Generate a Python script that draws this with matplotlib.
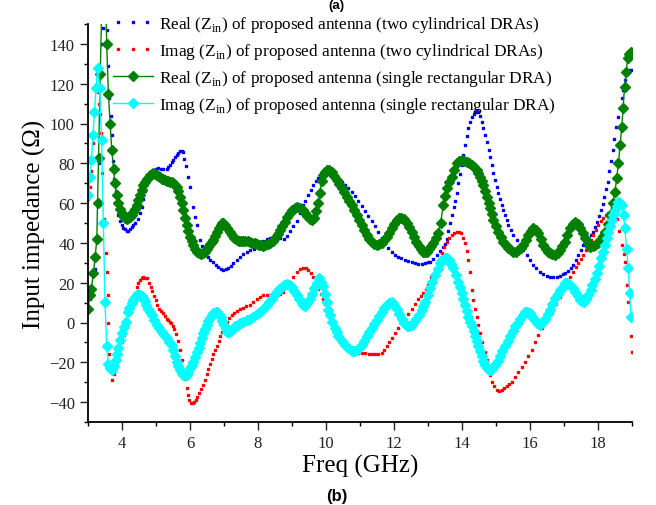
import numpy as np
import matplotlib
matplotlib.use("Agg")
import matplotlib.pyplot as plt
from matplotlib.ticker import MultipleLocator
from matplotlib.legend_handler import HandlerLine2D

plt.rcParams['font.family'] = ['Liberation Serif', 'DejaVu Serif']
plt.rcParams['mathtext.fontset'] = 'custom'
plt.rcParams['mathtext.rm'] = 'Liberation Serif'

# ---------------- data ----------------
# Real(Zin), two cylindrical DRAs
f_re2 = [3.05, 3.12, 3.2, 3.25, 3.3, 3.33, 3.36, 3.39, 3.42, 3.45, 3.5, 3.55, 3.6, 3.63, 3.68, 3.7, 3.74, 3.77,
         3.81, 3.84, 3.89, 3.94, 3.99, 4.04, 4.09, 4.14, 4.19, 4.24, 4.28, 4.33, 4.38, 4.48, 4.53, 4.58, 4.63,
         4.68, 4.73, 4.8, 4.86, 4.92, 5.0, 5.07, 5.14, 5.21, 5.31, 5.36, 5.41, 5.46, 5.51, 5.56, 5.61, 5.66,
         5.71, 5.75, 5.78, 5.83, 5.88, 5.94, 6.0, 6.08, 6.14, 6.2, 6.29, 6.35, 6.41, 6.47, 6.54, 6.6, 6.69,
         6.76, 6.83, 6.9, 6.98, 7.05, 7.13, 7.2, 7.27, 7.37, 7.47, 7.57, 7.67, 7.77, 7.87, 7.96, 8.06, 8.16,
         8.26, 8.36, 8.45, 8.55, 8.65, 8.75, 8.84, 8.94, 9.04, 9.14, 9.24, 9.33, 9.38, 9.48, 9.55, 9.63, 9.7,
         9.77, 9.85, 9.92, 10.0, 10.07, 10.16, 10.26, 10.36, 10.46, 10.56, 10.66, 10.76, 10.85, 10.95, 11.05,
         11.15, 11.24, 11.34, 11.44, 11.54, 11.64, 11.73, 11.83, 11.93, 12.03, 12.13, 12.22, 12.32, 12.42,
         12.52, 12.62, 12.72, 12.82, 12.92, 13.0, 13.06, 13.15, 13.25, 13.35, 13.45, 13.5, 13.55, 13.6, 13.65,
         13.7, 13.75, 13.79, 13.84, 13.89, 13.94, 13.99, 14.04, 14.09, 14.14, 14.19, 14.24, 14.29, 14.34,
         14.38, 14.43, 14.48, 14.53, 14.58, 14.63, 14.68, 14.73, 14.78, 14.82, 14.87, 14.92, 14.97, 15.02,
         15.07, 15.12, 15.17, 15.22, 15.26, 15.31, 15.36, 15.43, 15.51, 15.61, 15.71, 15.8, 15.9, 16.0, 16.1,
         16.19, 16.29, 16.39, 16.49, 16.59, 16.69, 16.79, 16.88, 16.98, 17.03, 17.13, 17.2, 17.27, 17.35,
         17.42, 17.5, 17.57, 17.65, 17.72, 17.79, 17.86, 17.91, 17.96, 18.03, 18.09, 18.14, 18.19, 18.24,
         18.28, 18.33, 18.38, 18.43, 18.48, 18.53, 18.58, 18.64, 18.7, 18.74, 18.78, 18.86, 18.94, 19.0]
z_re2 = [12, 18, 27, 42, 59, 80, 105, 125, 140, 148, 152, 147, 129, 113, 104, 94, 81, 72,
         66, 60, 54, 51, 49, 47.5, 47, 46, 46, 47, 48, 49, 50, 52, 55, 58, 62,
         66, 70, 73, 75, 76, 77, 77.5, 77, 77, 77, 78, 79, 80.5, 81.7, 83, 84, 85,
         86, 86, 85.5, 82, 78.6, 73, 68, 58, 53, 49, 41.5, 38.5, 36.4, 34.5, 33, 31.5, 30.5,
         29, 28, 27, 26.5, 26.8, 27.6, 28.5, 30, 31.5, 33, 34.5, 35.6, 36.3, 37, 38.5, 40, 41,
         42, 42.5, 43, 43, 42.5, 42, 43.5, 46, 48.5, 51, 55, 59, 61, 64, 66.5, 69, 71,
         72.5, 74, 75, 75.5, 75.5, 74.5, 73.5, 72, 70.8, 69, 67.4, 65.5, 63.4, 61, 58.4,
         56, 53.4, 51, 48.3, 45.3, 42.3, 39.8, 37.3, 35.5, 34, 33, 32.2, 31.4, 30.8,
         30.2, 29.7, 29.5, 29.5, 29.8, 30.3, 30.6, 32, 34, 36, 38, 39.5, 42, 46, 50,
         54, 58, 61, 65, 70, 74.5, 79, 84, 89, 93.5, 97.6, 101, 103.5, 105,
         106, 106.3, 106, 104, 101, 97.5, 94, 90.5, 86.7, 83, 79, 75, 71.6, 68,
         65, 62, 59, 56.5, 54, 51.5, 49, 46.5, 44, 41.5, 39, 36.5, 34, 31.5, 29,
         27.2, 25.6, 24.5, 23.5, 23, 22.8, 23, 23.5, 24.2, 24.7, 26, 27.5, 29, 31.5,
         34, 36.5, 39, 40.5, 42, 43.8, 45.7, 48, 50.7, 53.5, 56.5, 59.5, 63, 67,
         70.8, 76, 81, 86.5, 92, 98, 103.5, 108, 112.7, 117, 122, 125, 127, 127]

# Imag(Zin), two cylindrical DRAs
f_im2 = [3.0, 3.06, 3.1, 3.16, 3.22, 3.27, 3.32, 3.37, 3.42, 3.47, 3.52, 3.55, 3.58, 3.6, 3.62, 3.65, 3.7, 3.75,
         3.79, 3.84, 3.89, 3.94, 3.99, 4.05, 4.12, 4.18, 4.24, 4.28, 4.33, 4.38, 4.43, 4.48, 4.53, 4.58, 4.63,
         4.68, 4.73, 4.79, 4.84, 4.89, 4.94, 4.99, 5.04, 5.09, 5.15, 5.21, 5.26, 5.31, 5.36, 5.41, 5.45, 5.49,
         5.54, 5.59, 5.65, 5.71, 5.75, 5.8, 5.85, 5.9, 5.94, 5.98, 6.03, 6.08, 6.13, 6.18, 6.22, 6.27, 6.33,
         6.39, 6.44, 6.49, 6.54, 6.59, 6.64, 6.69, 6.74, 6.79, 6.84, 6.88, 6.93, 6.98, 7.03, 7.08, 7.15, 7.23,
         7.3, 7.37, 7.47, 7.57, 7.66, 7.76, 7.86, 7.96, 8.06, 8.16, 8.26, 8.35, 8.45, 8.55, 8.65, 8.74, 8.84,
         8.94, 9.04, 9.14, 9.24, 9.33, 9.4, 9.48, 9.56, 9.63, 9.7, 9.77, 9.84, 9.9, 9.96, 10.02, 10.1, 10.17,
         10.24, 10.31, 10.38, 10.46, 10.53, 10.61, 10.68, 10.76, 10.85, 10.95, 11.05, 11.15, 11.25, 11.34,
         11.44, 11.54, 11.64, 11.72, 11.79, 11.86, 11.93, 12.03, 12.13, 12.22, 12.32, 12.42, 12.52, 12.62,
         12.72, 12.8, 12.86, 12.93, 13.0, 13.1, 13.2, 13.3, 13.4, 13.48, 13.55, 13.62, 13.7, 13.77, 13.84,
         13.9, 13.96, 14.03, 14.09, 14.14, 14.19, 14.24, 14.29, 14.33, 14.38, 14.43, 14.48, 14.53, 14.6,
         14.68, 14.73, 14.78, 14.83, 14.87, 14.94, 15.02, 15.09, 15.17, 15.24, 15.31, 15.39, 15.46, 15.56,
         15.66, 15.75, 15.85, 15.95, 16.05, 16.15, 16.24, 16.34, 16.44, 16.54, 16.64, 16.76, 16.88, 16.98,
         17.08, 17.17, 17.27, 17.35, 17.42, 17.5, 17.57, 17.65, 17.72, 17.79, 17.86, 17.94, 18.01, 18.09,
         18.16, 18.23, 18.3, 18.4, 18.5, 18.57, 18.63, 18.7, 18.75, 18.79, 18.84, 18.89, 18.93, 18.97, 18.99]
z_im2 = [62, 68, 76, 90, 105, 116, 110, 95, 75, 52, 35, 25.6, 13.8, 0, -16, -24, -29, -26,
         -23, -19.5, -16.4, -13, -9.6, -6.5, -3, 1, 5.5, 8.5, 12, 15, 18, 20, 21.4, 22.3, 22.7,
         22.6, 22.2, 20, 18, 15.8, 13.5, 11.3, 9, 7, 5.8, 4.6, 3.3, 2, 1.2, 0.4, -0.5, -1.6,
         -3.5, -6, -9.5, -14, -19, -24, -28.5, -33, -36.5, -39, -40.3, -40.6, -40.2, -39, -37.5, -35.6, -33.5,
         -31.4, -28.7, -26, -23.5, -21, -18.5, -16, -13.8, -11.6, -9.3, -7, -5, -3, -1.3, 0.4, 2.2, 3.8,
         4.8, 5.8, 6.7, 7.5, 8.2, 8.8, 10.3, 11.8, 12.8, 13.8, 14, 14, 13.8, 13.5, 14.3, 15.5, 18,
         20.6, 23, 25.6, 26.8, 27.6, 27.3, 26.4, 25, 23, 20.3, 17, 14.5, 12, 9.5, 7, 4.5, 2,
         -0.5, -3, -5.5, -8, -9.8, -11.4, -12.7, -13.8, -14.8, -15.5, -15.5, -15.5, -15.7, -15.8,
         -16, -15.8, -15.5, -14, -12, -10, -8, -5.5, -3, -0.5, 2, 4.5, 7, 9.5,
         12, 13.5, 14.6, 16.8, 18.9, 23, 27, 31, 34.8, 37.8, 40.6, 42.5, 44, 45, 45.7,
         45.5, 44.8, 42.5, 39.8, 36, 31.4, 25.6, 16.3, 11.5, 7, 3, -1.3, -5.4, -10,
         -14.6, -19, -23, -26.5, -29.7, -32, -34, -34.3, -34, -33, -32, -31, -29.7, -27.2,
         -24.7, -22.2, -19.6, -16.7, -13.8, -10, -6.3, -3, 0, 2.8, 5.5, 9.3, 13, 16.8,
         20.6, 23, 25.6, 27.7, 29.7, 31.8, 34, 36.5, 39, 41.5, 44, 46.5, 49, 50.8,
         52.4, 53.8, 55, 56, 56.5, 52, 46, 39, 34.5, 30.6, 19, 10.5, 2, -7, -14.6]

# Real(Zin), single rectangular DRA
f_re1 = [3.0, 3.06, 3.1, 3.16, 3.21, 3.26, 3.28, 3.31, 3.36, 3.42, 3.5, 3.55, 3.6, 3.65, 3.7, 3.75, 3.79, 3.84,
         3.89, 3.94, 3.99, 4.04, 4.09, 4.14, 4.19, 4.24, 4.28, 4.33, 4.38, 4.43, 4.48, 4.53, 4.58, 4.63, 4.68,
         4.73, 4.78, 4.82, 4.87, 4.92, 4.97, 5.02, 5.07, 5.12, 5.17, 5.21, 5.26, 5.31, 5.36, 5.41, 5.46, 5.51,
         5.56, 5.61, 5.66, 5.71, 5.75, 5.8, 5.85, 5.9, 5.95, 6.0, 6.05, 6.1, 6.15, 6.2, 6.26, 6.32, 6.38,
         6.44, 6.49, 6.54, 6.6, 6.65, 6.69, 6.74, 6.8, 6.85, 6.9, 6.94, 6.98, 7.04, 7.1, 7.17, 7.23, 7.3,
         7.37, 7.43, 7.5, 7.57, 7.63, 7.7, 7.76, 7.83, 7.9, 7.96, 8.03, 8.1, 8.16, 8.22, 8.29, 8.35, 8.43,
         8.5, 8.58, 8.65, 8.72, 8.79, 8.86, 8.94, 9.01, 9.09, 9.16, 9.24, 9.31, 9.38, 9.45, 9.53, 9.6, 9.66,
         9.72, 9.77, 9.82, 9.87, 9.92, 9.97, 10.02, 10.1, 10.17, 10.24, 10.31, 10.38, 10.46, 10.53, 10.61,
         10.68, 10.76, 10.83, 10.9, 10.98, 11.05, 11.12, 11.2, 11.27, 11.34, 11.41, 11.49, 11.56, 11.64,
         11.71, 11.79, 11.86, 11.93, 12.0, 12.08, 12.14, 12.21, 12.29, 12.37, 12.44, 12.52, 12.59, 12.66,
         12.73, 12.8, 12.86, 12.91, 12.96, 13.04, 13.1, 13.16, 13.23, 13.3, 13.37, 13.45, 13.5, 13.55, 13.62,
         13.7, 13.77, 13.84, 13.91, 13.99, 14.07, 14.14, 14.22, 14.29, 14.36, 14.43, 14.48, 14.53, 14.58,
         14.63, 14.68, 14.73, 14.78, 14.82, 14.87, 14.92, 15.0, 15.07, 15.14, 15.22, 15.29, 15.36, 15.44,
         15.51, 15.58, 15.66, 15.73, 15.8, 15.88, 15.95, 16.02, 16.1, 16.17, 16.24, 16.32, 16.39, 16.46,
         16.54, 16.59, 16.66, 16.74, 16.81, 16.88, 16.95, 17.03, 17.1, 17.18, 17.25, 17.32, 17.4, 17.47,
         17.55, 17.62, 17.7, 17.77, 17.84, 17.91, 17.99, 18.06, 18.14, 18.21, 18.28, 18.35, 18.43, 18.5,
         18.55, 18.6, 18.65, 18.7, 18.74, 18.78, 18.83, 18.87, 18.92, 18.97]
z_re1 = [7, 14, 17, 25, 33, 42, 60, 82.5, 125, 170, 175, 140, 115, 100, 86.7, 77, 70, 64,
         60, 57, 55, 53.5, 52.4, 52, 52.4, 53, 54, 55.5, 57, 59, 61.6, 64, 66.6, 69, 70.8,
         72, 73.2, 74, 74.7, 75, 74.6, 74, 73.5, 73, 72.3, 72, 71.6, 71.2, 71, 70.8, 70.5, 70,
         69.2, 68.3, 66, 63, 60, 56.5, 52.5, 49, 46, 43, 41, 39, 37, 35.6, 34.7, 34.3, 34.7,
         35.6, 36.8, 38, 39.5, 40.5, 41.5, 43.5, 45.6, 47.5, 49, 49.8, 50, 48.8, 47.3, 45.5, 44, 42.5,
         41.5, 41.2, 41, 41, 40.9, 40.8, 40.6, 40.2, 39.7, 39.3, 39, 38.7, 38.6, 38.9, 39.3, 40, 41,
         42.3, 44.5, 46.5, 48.5, 50.7, 53, 55, 56.5, 57.7, 57.8, 57.4, 56.3, 55, 53.5, 52, 51.5, 52.5,
         56, 60, 65, 71, 74, 75.8, 76.6, 76.5, 75.8, 73.8, 71.6, 69.5, 67.4, 65.4, 63.3,
         61.2, 59, 56.5, 54, 51.5, 49, 46.5, 44, 42, 40.6, 39.5, 39, 39.2, 40,
         41.3, 43, 45, 47.3, 49.5, 51.5, 52.4, 52.7, 51.8, 50, 48, 45.7, 43, 40.6,
         38.5, 36.8, 35.6, 35.2, 35.6, 37, 38.5, 40, 42.3, 44.8, 50, 59, 63.5, 67.4, 70.5,
         73.3, 76.8, 80, 81.2, 81.7, 81.4, 80.8, 80, 79, 78, 76.6, 75, 73.3, 71.2,
         69, 66, 63.3, 60.3, 57.4, 54.5, 51.5, 48.5, 45.7, 43, 40.6, 38.8, 37.3, 36.2,
         35.3, 35.5, 36.4, 37.5, 39, 41.5, 44, 46, 47.3, 46.5, 44.8, 42, 39, 37,
         35.6, 35, 34.3, 33.9, 34.8, 36.4, 38.3, 40.6, 44, 47.3, 49.5, 50.7, 49.5, 47.3,
         44.8, 42.3, 40, 38, 38.3, 39, 40, 41.5, 43.5, 45.7, 49.5, 54, 60, 65.8,
         72.5, 80, 89, 98.4, 108, 118.5, 126, 132.8, 135, 136]

# Imag(Zin), single rectangular DRA
f_im1 = [3.01, 3.06, 3.1, 3.15, 3.19, 3.24, 3.28, 3.34, 3.4, 3.45, 3.5, 3.55, 3.6, 3.65, 3.7, 3.76, 3.81, 3.85,
         3.89, 3.94, 3.99, 4.05, 4.11, 4.17, 4.22, 4.28, 4.33, 4.38, 4.43, 4.48, 4.53, 4.58, 4.63, 4.68, 4.72,
         4.77, 4.82, 4.87, 4.95, 5.02, 5.1, 5.17, 5.24, 5.31, 5.38, 5.46, 5.51, 5.56, 5.61, 5.66, 5.71, 5.76,
         5.8, 5.85, 5.9, 5.95, 6.0, 6.05, 6.1, 6.15, 6.2, 6.25, 6.29, 6.34, 6.39, 6.44, 6.49, 6.54, 6.59,
         6.64, 6.69, 6.75, 6.8, 6.85, 6.9, 6.95, 7.0, 7.05, 7.1, 7.15, 7.2, 7.26, 7.32, 7.4, 7.47, 7.57,
         7.67, 7.76, 7.86, 7.96, 8.06, 8.16, 8.26, 8.33, 8.4, 8.48, 8.55, 8.62, 8.7, 8.77, 8.84, 8.92, 8.99,
         9.07, 9.14, 9.21, 9.28, 9.33, 9.38, 9.45, 9.53, 9.6, 9.66, 9.73, 9.8, 9.85, 9.9, 9.96, 10.02, 10.07,
         10.12, 10.19, 10.25, 10.31, 10.36, 10.46, 10.56, 10.66, 10.76, 10.83, 10.9, 10.98, 11.05, 11.12,
         11.2, 11.27, 11.34, 11.41, 11.49, 11.56, 11.64, 11.71, 11.79, 11.86, 11.93, 12.0, 12.08, 12.15,
         12.23, 12.3, 12.37, 12.45, 12.52, 12.59, 12.66, 12.73, 12.81, 12.86, 12.91, 12.99, 13.06, 13.13,
         13.21, 13.28, 13.35, 13.42, 13.5, 13.56, 13.63, 13.68, 13.74, 13.81, 13.89, 13.94, 13.99, 14.04,
         14.09, 14.14, 14.19, 14.24, 14.29, 14.34, 14.38, 14.43, 14.48, 14.53, 14.58, 14.63, 14.68, 14.73,
         14.78, 14.82, 14.87, 14.92, 14.97, 15.05, 15.12, 15.19, 15.26, 15.34, 15.41, 15.49, 15.56, 15.64,
         15.71, 15.78, 15.85, 15.92, 16.0, 16.07, 16.15, 16.22, 16.29, 16.37, 16.44, 16.52, 16.59, 16.66,
         16.74, 16.81, 16.88, 16.96, 17.03, 17.1, 17.18, 17.25, 17.32, 17.4, 17.47, 17.53, 17.6, 17.66,
         17.72, 17.78, 17.83, 17.9, 17.96, 18.03, 18.09, 18.15, 18.21, 18.26, 18.3, 18.35, 18.4, 18.45,
         18.5, 18.55, 18.6, 18.65, 18.7, 18.75, 18.79, 18.84, 18.89, 18.93, 18.97]
z_im1 = [64, 73, 81.7, 94, 106, 118, 127.7, 118, 91.7, 50, 10.5, -12, -21, -23, -24, -22, -19, -16,
         -13, -9, -5.4, -2.5, 0.4, 5.5, 7.5, 9.6, 11.5, 13, 13.8, 14.2, 14, 13.5, 12.3, 10.8, 9,
         7, 5.4, 3.8, 1.2, -1.3, -3, -4.6, -6.3, -8, -9.7, -11.3, -14, -17, -19.6, -21.8, -23.9, -25.3,
         -26.4, -26.6, -26.4, -25, -23, -21.3, -19.6, -17.3, -15, -12.7, -10.5, -8, -5.4, -3.3, -1.3, 0.7, 2.5,
         3.6, 4.6, 5.2, 5.5, 4.5, 3, 0.8, -1.3, -3, -4.6, -4.8, -4.3, -3.2, -2, -1.2, -0.4, 0.5,
         1.3, 2, 3, 4.2, 5.5, 7, 8.8, 10.4, 12, 13.8, 15.5, 16.8, 18, 18.8, 19.3, 18.8, 18,
         16, 13.8, 11.7, 9.6, 8.8, 8.5, 10, 12, 14.5, 17.2, 19.6, 22.2, 20.5, 18.5, 14.5, 10.5, 6.5,
         3.8, 0.5, -2.9, -5, -7, -9.3, -11.4, -12.9, -14.3, -14.1, -13.8, -12.6, -11.3, -9.2,
         -7, -5, -3, -0.8, 1.3, 3.4, 5.5, 7.2, 8.8, 9.6, 10.1, 8.8, 7, 4.5,
         2, 0, -2, -1.8, -1.2, 0.3, 2, 4, 6.3, 8.4, 10.5, 13.8, 17.2, 20.6,
         24, 27, 30, 31.6, 32.6, 32.3, 31.4, 29.5, 27.2, 24, 20.6, 17.6, 14.7, 11.7,
         8.8, 5.9, 3, 0.5, -2, -4.5, -7, -9.5, -12, -14.5, -17, -19.2, -21.4, -22.8,
         -23.9, -23.8, -23.4, -22.5, -21.4, -19.2, -17, -14.5, -12, -9.5, -7, -4.5, -2, 0,
         2, 3.8, 5.5, 5.3, 4.6, 3, 1.3, 0, -1.3, 0.3, 2, 4.2, 6.3, 9.2,
         12.2, 14.3, 16.4, 18, 19.7, 19.6, 19, 17.3, 15.5, 13.4, 11.3, 10.7, 10.5, 12,
         14, 16.5, 19, 21.8, 24.7, 28.5, 32.3, 35.6, 39, 42.3, 45.7, 48.6, 51.5, 53.8,
         56, 58.4, 60.8, 60, 59, 54, 47.3, 37, 27.2, 15, 3]

labels = [r'Real (Z$_{\rm in}$) of proposed antenna (two cylindrical DRAs)',
          r'Imag (Z$_{\rm in}$) of proposed antenna (two cylindrical DRAs)',
          r'Real (Z$_{\rm in}$) of proposed antenna (single rectangular DRA)',
          r'Imag (Z$_{\rm in}$) of proposed antenna (single rectangular DRA)']

# ---------------- plot ----------------
fig = plt.figure(figsize=(6.56, 5.06), dpi=100)
ax = fig.add_axes([88/656, 1-423/506, (632-88)/656, (423-25)/506])

l1, = ax.plot(f_re2, z_re2, ls='none', marker='s', ms=1.7, color='#0000FF', label=labels[0])
l2, = ax.plot(f_im2, z_im2, ls='none', marker='s', ms=1.7, color='#FF0000', label=labels[1])
l3, = ax.plot(f_re1, z_re1, '-', lw=1.0, marker='D', ms=4.8, color='#008000', label=labels[2])
l4, = ax.plot(f_im1, z_im1, '-', lw=1.0, marker='D', ms=5.3, color='#00FFFF', label=labels[3])

ax.set_xlim(3, 19)
ax.set_ylim(-50, 150)
ax.xaxis.set_minor_locator(MultipleLocator(1))
ax.yaxis.set_minor_locator(MultipleLocator(10))
ax.set_xticks([4, 6, 8, 10, 12, 14, 16, 18])
ax.set_yticks([-40, -20, 0, 20, 40, 60, 80, 100, 120, 140])
ax.tick_params(which='major', direction='out', length=6, width=1, labelsize=12, colors='#222222')
ax.tick_params(which='minor', direction='out', length=3, width=1)
for s in ['top', 'right']:
    ax.spines[s].set_visible(False)
for s in ['left', 'bottom']:
    ax.spines[s].set_linewidth(1.3)

ax.set_xlabel('Freq (GHz)', fontsize=18, labelpad=2)
ax.set_ylabel('Input impedance (\u03a9)', fontsize=18, labelpad=2)

leg = ax.legend(handles=[l1, l2, l3, l4], loc='upper left', bbox_to_anchor=(113/656, 1-15/506),
                bbox_transform=fig.transFigure, frameon=False, fontsize=12.4, borderpad=0,
                borderaxespad=0, handlelength=2.3, handletextpad=0.35, labelspacing=0.4,
                handler_map={l1: HandlerLine2D(numpoints=3), l2: HandlerLine2D(numpoints=3)})

fig.text(0.513, 1.0, '(a)', ha='center', va='top', fontsize=9.5, fontweight='bold',
         family='Liberation Sans')
fig.text(0.513, 0.003, '(b)', ha='center', va='bottom', fontsize=12, fontweight='bold',
         family='Liberation Sans')

fig.savefig('out.png', dpi=100)
